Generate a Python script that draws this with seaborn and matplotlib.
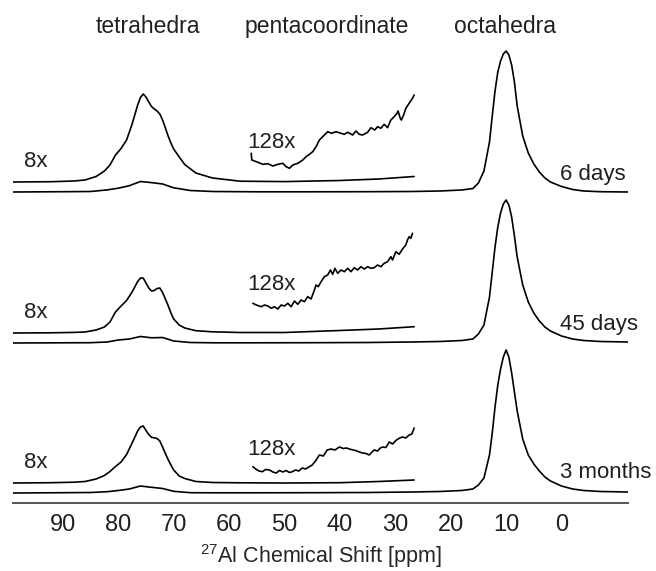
import numpy as np
import pandas as pd
import matplotlib
matplotlib.use("Agg")
import matplotlib.pyplot as plt
import seaborn as sns

# full spectra (ppm grid shared by the three samples), intensity in a.u.
main_ppm = [99, 90, 85, 82, 80, 78, 76, 74, 72, 70, 67, 63, 55, 45, 35, 27, 22, 18, 16, 15,
            14, 13, 12.5, 12, 11.5, 11, 10.5, 10, 9.5, 9, 8.5, 8, 7, 6, 5, 4, 3, 2, 0, -2,
            -4, -7, -12]
main_6d = [0, 0.3, 0.5, 2.1, 3.8, 6.3, 10.5, 9.4, 8, 4.2, 1.5, 0.5, 0.2, 0.2, 0.3, 0.5, 1, 2, 3.5, 9,
           21, 50, 76, 101, 120, 131, 138, 141, 137, 127, 110, 86, 56, 39, 28, 20, 14, 10, 5.5, 2.5,
           1, 0.3, 0]
main_45d = [0, 0.2, 0.3, 1, 3, 4, 6.5, 5.2, 5.5, 2, 0.5, 0.2, 0.2, 0.3, 0.5, 1, 1.5, 2.5, 4, 9,
            18, 46, 71, 96, 116, 130, 139, 143, 138, 126, 107, 86, 58, 41, 30, 22, 16, 12, 7, 4,
            2.5, 1.5, 1]
main_3m = [0, 0.3, 0.5, 1.3, 2.5, 4, 7, 5.7, 4.5, 1.7, 0.3, 0.2, 0.2, 0.3, 0.5, 1, 1.5, 2.5, 4, 8,
           15, 38, 60, 86, 108, 124, 136, 143, 136, 120, 101, 82, 54, 38, 29, 22, 16, 12, 7, 4,
           2.5, 1.5, 1]

# 8x expanded traces (as drawn)
x8_ppm = [99, 92, 88, 86, 84, 82.5, 81.5, 80.5, 79.5, 78.5, 77.5, 76.5, 76, 75.5, 75, 74.5, 74,
          73.5, 73, 72.5, 72, 71.5, 71, 70.5, 70, 69, 68, 66, 63, 58, 50, 40, 33, 26.6]
x8_6d = [0, 0.3, 1, 2, 5.5, 11, 17, 27, 33.5, 42, 58, 77, 84.5, 88, 85, 80, 75.5,
         73, 71, 68, 62, 54, 46, 39, 33, 25, 17.5, 9, 4, 0.8, 0.4, 1.5, 3, 5.5]
x8_45d = [0, 0.2, 0.6, 1, 3, 6, 11, 21, 27, 32.5, 41, 51.5, 55, 55, 50, 45, 42,
          42.5, 44.5, 45, 40.5, 34, 27.5, 20, 14, 8, 5, 2.3, 1.2, 0.5, 0.5, 2.5, 4, 6.3]
x8_3m = [0, 0.3, 0.8, 1.5, 4, 7.5, 11.5, 16.5, 21, 28.5, 40, 52, 56, 57, 52.5, 48.5, 45.7,
         45.2, 44.5, 42, 36, 29.5, 23.4, 18, 13, 7, 4.5, 1.5, 0.5, 0.2, 0, 0.3, 1.5, 3]

# 128x expanded traces (pentacoordinate region)
p128_ppm_6d = [56.0, 55.9, 54.8, 53.9, 53.0, 52.1, 51.2, 50.3, 49.7, 49.1, 48.5, 47.6, 46.7, 46.1,
               45.5, 44.9, 44.3, 43.7, 42.8, 42.2, 41.5, 40.7, 39.8, 39.2, 38.6, 37.7, 37.1, 36.5,
               35.9, 35.0, 34.4, 33.7, 33.2, 32.6, 32.0, 31.4, 30.8, 30.2, 29.7, 29.5, 29.1, 28.9,
               28.5, 28.1, 27.5, 26.9, 26.6]
p128_6d = [18.7, 12, 9.7, 7.7, 8.3, 6, 7.7, 8.7, 5.3, 3.7, 7, 8.7, 12, 15.3,
           17.7, 20.3, 25.3, 32, 37, 40.3, 38.7, 40.3, 38.7, 37.7, 39.7, 37, 41, 37.7,
           37, 39.7, 44.3, 42, 45.3, 43.7, 47.7, 44.3, 52, 55.3, 58.7, 61, 53.7, 52,
           57, 63.7, 68.7, 73.7, 77]
p128_ppm_45d = [55.7, 55.1, 54.2, 53.6, 53.0, 52.4, 51.8, 51.2, 50.6, 50.0, 49.4, 48.8, 48.2, 47.6,
                47.0, 46.4, 45.8, 45.2, 44.6, 44.3, 43.9, 43.4, 42.8, 42.2, 41.7, 41.3, 40.9, 40.4,
                39.8, 39.2, 38.6, 38.0, 37.4, 36.8, 36.2, 35.6, 35.0, 34.4, 33.8, 33.2, 32.6, 32.0,
                31.4, 30.8, 30.5, 29.9, 29.3, 28.7, 28.1, 27.8, 27.5, 27.2, 26.9]
p128_45d = [19.7, 18, 16.3, 18, 17, 14.7, 16.3, 14, 18, 17, 19.7, 16.3, 22, 18.7,
            23, 21.3, 26.3, 24, 33, 38, 36.3, 41.3, 46.3, 48, 53, 48.7, 54.7, 49.7,
            53, 51.3, 54.7, 51.3, 55.3, 53, 56.3, 54, 56.3, 54.7, 55.3, 58, 56.3, 59.7,
            61.3, 66.3, 63, 71.3, 68.7, 74, 78, 83, 86.3, 84.7, 89.7]
p128_ppm_3m = [55.7, 55.2, 54.6, 54.0, 53.4, 52.7, 52.1, 51.5, 50.9, 50.3, 49.7, 49.1, 48.6, 48.0,
               47.4, 46.8, 46.2, 45.6, 45.0, 44.4, 43.7, 43.0, 42.3, 41.6, 40.9, 40.1, 39.4, 38.8,
               38.3, 37.6, 36.9, 36.5, 35.9, 35.3, 34.7, 34.2, 33.8, 33.2, 32.7, 32.3, 31.7, 31.1,
               30.5, 29.8, 29.2, 28.7, 28.1, 27.5, 27.0, 26.6]
p128_3m = [6.3, 4, 2, 1.3, 3.5, 3, 1, 0, 2.5, 1, 2.5, 0.5, 1.3, 3,
           2, 5, 4, 6, 8, 12, 18, 17, 23, 24, 23, 26, 24.5, 25,
           24, 23, 22, 21, 20, 19.5, 18, 21, 23, 22, 25, 26, 25.5, 31,
           29, 33, 35, 36, 35, 38, 39, 45]

sample_names = ["6 days", "45 days", "3 months"]
region_names = ["tetrahedra", "pentacoordinate", "octahedra"]
region_ppm = [74.6, 42.4, 10.2]

# layout (vertical stacking in a.u.)
stack = [301, 150, 0]
off_8x = 10
off_128x = 20
lbl_128x = [44, 53, 38]
lbl_name = [12, 13, 15]

sns.set_style("white")
plt.rcParams['font.family'] = ['Liberation Sans', 'DejaVu Sans']
plt.rcParams['mathtext.fontset'] = 'custom'
plt.rcParams['mathtext.rm'] = 'Liberation Sans'
plt.rcParams['mathtext.it'] = 'Liberation Sans:italic'
plt.rcParams['text.color'] = '#231f20'

fig = plt.figure(figsize=(6.56, 5.71), dpi=100)
ax = fig.add_axes([13 / 656, 1 - 503 / 571, 615 / 656, 503 / 571])

mains = [main_6d, main_45d, main_3m]
x8s = [x8_6d, x8_45d, x8_3m]
p128 = [(p128_ppm_6d, p128_6d), (p128_ppm_45d, p128_45d), (p128_ppm_3m, p128_3m)]
lw = 1.2
fs = 16
for i, name in enumerate(sample_names):
    base = stack[i]
    sns.lineplot(x=main_ppm, y=np.array(mains[i]) + base, ax=ax, color="black",
                 lw=lw, estimator=None, sort=False)
    sns.lineplot(x=x8_ppm, y=np.array(x8s[i]) + base + off_8x, ax=ax, color="black",
                 lw=lw, estimator=None, sort=False)
    px, py = p128[i]
    sns.lineplot(x=px, y=np.array(py) + base + off_128x, ax=ax, color="black",
                 lw=lw, estimator=None, sort=False)
    ax.text(94.9, base + 25, "8x", fontsize=fs, ha="center", va="baseline")
    ax.text(52.3, base + lbl_128x[i], "128x", fontsize=fs, ha="center", va="baseline")
    ax.text(0.2, base + lbl_name[i], name, fontsize=fs, ha="left", va="baseline")

for name, pos in zip(region_names, region_ppm):
    ax.text(pos, 460, name, fontsize=16.5, ha="center", va="baseline")

ax.set_xlim(99, -12)
ax.set_ylim(-10, 493)
ax.set_xticks(np.arange(90, -1, -10))
ax.set_xticks(np.arange(95, -12, -5), minor=True)
ax.set_yticks([])
ax.tick_params(axis="x", which="both", direction="out", length=4, width=1,
               colors="#3a3a3a", labelsize=17, pad=4, labelcolor="#231f20")
for s in ["top", "left", "right"]:
    ax.spines[s].set_visible(False)
ax.spines["bottom"].set_color("#555555")
ax.spines["bottom"].set_linewidth(1.4)
ax.set_xlabel(r"$^{27}$Al Chemical Shift [ppm]", fontsize=15.5, labelpad=4)
ax.set_ylabel("")

fig.savefig("out.png", dpi=100)
